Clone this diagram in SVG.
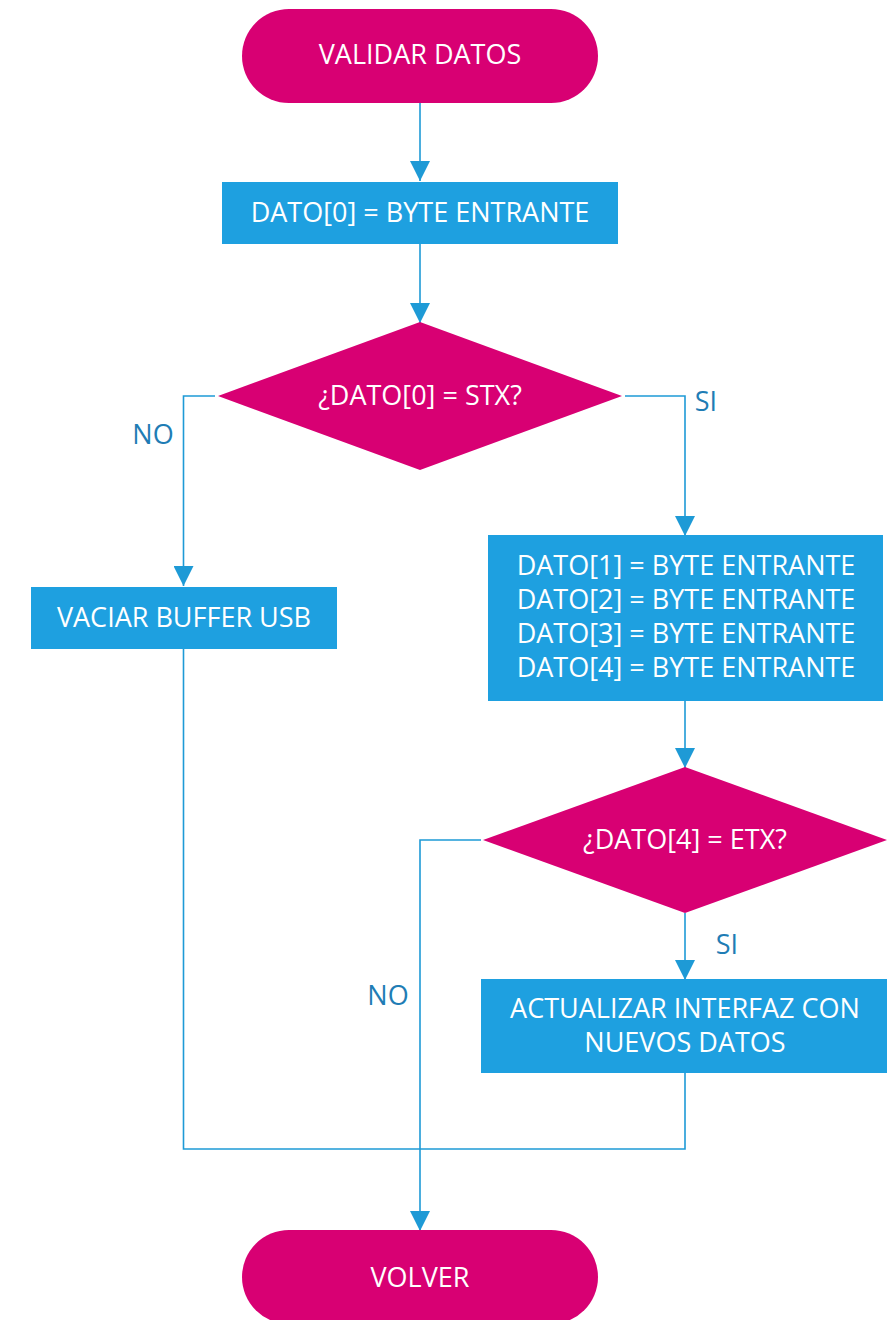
<svg xmlns="http://www.w3.org/2000/svg" width="887" height="1320" viewBox="0 0 887 1320">
<style>
.term{fill:#D80073}
.dec{fill:#D80073}
.proc{fill:#1EA0E0}
.t{font-family:"Open Sans","Noto Sans","Liberation Sans",sans-serif;font-size:27px;fill:#FFFFFF;text-anchor:middle}
.lbl{font-family:"Open Sans","Noto Sans","Liberation Sans",sans-serif;font-size:27px;fill:#1F7DB5;text-anchor:middle}
.c{fill:none;stroke:#1E9AD6;stroke-width:1.6}
</style>
<defs>
<marker id="ah" markerUnits="userSpaceOnUse" markerWidth="20" markerHeight="20" refX="20" refY="10" orient="auto" viewBox="0 0 20 20">
<path d="M0,0 L20,10 L0,20 z" fill="#1E9AD6"/>
</marker>
</defs>
<rect width="887" height="1320" fill="#FFFFFF"/>
<g id="connectors">
<path class="c" d="M420,103 V181" marker-end="url(#ah)"/>
<path class="c" d="M420,244 V323" marker-end="url(#ah)"/>
<path class="c" d="M215,396 H183.5 V586" marker-end="url(#ah)"/>
<path class="c" d="M625,396 H685 V536" marker-end="url(#ah)"/>
<path class="c" d="M685,701 V768" marker-end="url(#ah)"/>
<path class="c" d="M685,913 V980" marker-end="url(#ah)"/>
<path class="c" d="M481,840 H420 V1231" marker-end="url(#ah)"/>
<path class="c" d="M685,1073 V1149 H183.5 V649"/>
<text class="lbl" x="153" y="444">NO</text>
<text class="lbl" x="706" y="411">SI</text>
<text class="lbl" x="388" y="1005">NO</text>
<text class="lbl" x="727" y="954">SI</text>
</g>
<g id="start">
<rect class="term" x="242" y="9" width="356" height="94" rx="47"/>
<text class="t" x="420" y="64">VALIDAR DATOS</text>
</g>
<g id="dato0">
<rect class="proc" x="222" y="182" width="396" height="62"/>
<text class="t" x="420" y="222">DATO[0] = BYTE ENTRANTE</text>
</g>
<g id="stx">
<polygon class="dec" points="420,322 622,396 420,470 218,396"/>
<text class="t" x="420" y="405">¿DATO[0] = STX?</text>
</g>
<g id="vaciar">
<rect class="proc" x="31" y="587" width="306" height="62"/>
<text class="t" x="184" y="627">VACIAR BUFFER USB</text>
</g>
<g id="datos14">
<rect class="proc" x="488" y="535" width="395" height="166"/>
<text class="t" x="686" y="575">DATO[1] = BYTE ENTRANTE</text>
<text class="t" x="686" y="609">DATO[2] = BYTE ENTRANTE</text>
<text class="t" x="686" y="643">DATO[3] = BYTE ENTRANTE</text>
<text class="t" x="686" y="677">DATO[4] = BYTE ENTRANTE</text>
</g>
<g id="etx">
<polygon class="dec" points="685,767 887,840 685,913 483,840"/>
<text class="t" x="685" y="849">¿DATO[4] = ETX?</text>
</g>
<g id="actualizar">
<rect class="proc" x="481" y="979" width="406" height="94"/>
<text class="t" x="685" y="1018">ACTUALIZAR INTERFAZ CON</text>
<text class="t" x="685" y="1052">NUEVOS DATOS</text>
</g>
<g id="volver">
<rect class="term" x="242" y="1230" width="356" height="94" rx="47"/>
<text class="t" x="420" y="1287">VOLVER</text>
</g>
</svg>
